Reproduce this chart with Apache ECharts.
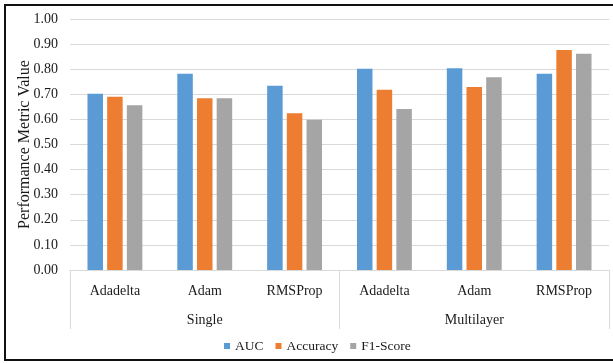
<!DOCTYPE html>
<html>
<head>
<meta charset="utf-8">
<script src="https://cdn.jsdelivr.net/npm/echarts@6/dist/echarts.min.js"></script>
<style>
  html, body { margin: 0; padding: 0; background: #fff; }
  #chart { width: 613px; height: 363px; }
</style>
</head>
<body>
<div id="chart"></div>
<script>
// Optimizers (inner axis level) and network types (outer axis level)
const optimizers = ['Adadelta', 'Adam', 'RMSProp', 'Adadelta', 'Adam', 'RMSProp'];
const networkTypes = ['Single', 'Multilayer'];

// Metric values per optimizer / network type
const auc      = [0.702, 0.782, 0.734, 0.802, 0.804, 0.782];
const accuracy = [0.690, 0.684, 0.625, 0.718, 0.729, 0.876];
const f1Score  = [0.656, 0.684, 0.599, 0.641, 0.768, 0.862];

const yTicks = { min: 0, max: 1, interval: 0.1 };

const font = 'Liberation Serif, Times New Roman, serif';
const gridColor = '#d9d9d9';
const textColor = '#1a1a1a';

const chart = echarts.init(document.getElementById('chart'));

const barSeries = (name, data, color) => ({
  name,
  type: 'bar',
  data,
  xAxisIndex: 0,
  barWidth: 15.5,
  barGap: '27%',
  itemStyle: { color }
});

chart.setOption({
  animation: false,
  textStyle: { fontFamily: font },
  grid: { left: 70, right: 4, top: 19, bottom: 93 },
  legend: {
    bottom: 5,
    left: 219,
    itemWidth: 6,
    itemHeight: 6,
    itemGap: 12,
    icon: 'rect',
    textStyle: { fontFamily: font, fontSize: 13.5, color: textColor }
  },
  xAxis: [
    {
      type: 'category',
      data: optimizers,
      position: 'bottom',
      axisLine: { show: true, lineStyle: { color: gridColor } },
      axisTick: { show: false },
      axisLabel: { margin: 14, fontFamily: font, fontSize: 14, color: textColor }
    },
    {
      type: 'category',
      data: networkTypes,
      position: 'bottom',
      axisLine: { show: false },
      axisTick: { show: true, length: 59, interval: 0, lineStyle: { color: gridColor } },
      axisLabel: { margin: 43, fontFamily: font, fontSize: 14, color: textColor }
    }
  ],
  yAxis: {
    type: 'value',
    min: yTicks.min,
    max: yTicks.max,
    interval: yTicks.interval,
    name: 'Performance Metric Value',
    nameLocation: 'middle',
    nameGap: 37,
    nameMoveOverlap: false,
    nameTextStyle: { fontFamily: font, fontSize: 16, color: textColor },
    axisLine: { show: false },
    axisTick: { show: false },
    axisLabel: {
      margin: 12,
      fontFamily: font,
      fontSize: 14,
      color: textColor,
      formatter: v => v.toFixed(2)
    },
    splitLine: { lineStyle: { color: gridColor } }
  },
  series: [
    barSeries('AUC', auc, '#5b9bd5'),
    barSeries('Accuracy', accuracy, '#ed7d31'),
    barSeries('F1-Score', f1Score, '#a5a5a5')
  ],
  graphic: [{
    type: 'rect',
    shape: { x: 5, y: 5, width: 640, height: 355 },
    style: { fill: 'none', stroke: '#111', lineWidth: 2 },
    silent: true
  }]
});
</script>
</body>
</html>
